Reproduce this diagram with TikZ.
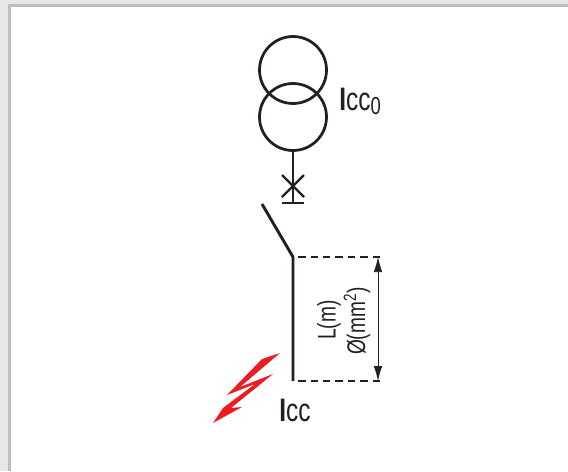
\documentclass[tikz,border=0pt]{standalone}
\usepackage{xcolor}
\usepackage{fontspec}
\setmainfont{Liberation Sans}
\newfontfamily\condfont[FakeStretch=0.75]{Liberation Sans}
\usepackage{tikz}
\usetikzlibrary{arrows.meta, positioning, calc}
\definecolor{pagegray}{HTML}{E6E7E8}
\definecolor{framegray}{HTML}{BCBEC0}
\definecolor{boltred}{HTML}{ED1C24}
\definecolor{inkblack}{HTML}{231F20}

\begin{document}
\begin{tikzpicture}[
    x=0.02cm, y=-0.02cm,
    winding/.style={draw=inkblack, circle, line width=0.55mm, minimum size=1.34cm, inner sep=0pt},
    wire/.style={draw=inkblack, line width=0.58mm},
    thinwire/.style={draw=inkblack, line width=0.46mm},
    guide/.style={draw=inkblack, line width=0.32mm, dash pattern=on 1.5mm off 1mm, dash phase=1.5mm},
    dimline/.style={draw=inkblack, line width=0.15mm, {Latex[length=3mm,width=1.7mm]}-{Latex[length=3mm,width=1.7mm]}},
    bigtext/.style={font=\condfont\fontsize{18.5}{19}\selectfont, text=inkblack, inner sep=0pt, anchor=base west},
    sidetext/.style={font=\condfont\fontsize{14.5}{15}\selectfont, text=inkblack, inner sep=0pt, rotate=90}
]
    % page and frame
    \useasboundingbox (0,0) rectangle (568,471);
    \fill[pagegray] (0,0) rectangle (568,471);
    \fill[framegray] (8,4) rectangle (568,471);
    \fill[white] (11,7) rectangle (568,471);

    % transformer
    \node[winding] (w1) at (293,70) {};
    \node[winding] (w2) at (293,117) {};
    \node[bigtext] (icc0) at (339,110) {\textbf{I}cc\raisebox{-2.5pt}{\fontsize{14}{15}\selectfont 0}};

    % breaker and switch
    \coordinate (b1) at (293,203);
    \coordinate (b2) at (282,203);
    \coordinate (b3) at (304,203);
    \coordinate (x1) at (282,175);
    \coordinate (x2) at (304,197);
    \coordinate (x3) at (282,197);
    \coordinate (x4) at (304,175);
    \coordinate (s1) at (262,204);
    \coordinate (s2) at (293,257);
    \coordinate (s3) at (293,381);
    \draw[thinwire] (w2.south) -- (b1);
    \draw[thinwire] (b2) -- (b3);
    \draw[thinwire] (x1) -- (x2);
    \draw[thinwire] (x3) -- (x4);
    \draw[wire, line join=miter] (s1) -- (s2) -- (s3);

    % length of the line
    \coordinate (d1) at (384,257);
    \coordinate (d2) at (384,381);
    \coordinate (a1) at (378,257);
    \coordinate (a2) at (378,381);
    \draw[guide] (s2) -- (d1);
    \draw[guide] (s3) -- (d2);
    \draw[dimline] (a1) -- (a2);
    \node[sidetext] (len) at (329,320) {L(m)};
    \node[sidetext] (sec) at (357,321) {Ø(mm\textsuperscript{2})};

    % fault
    \fill[boltred] (280,353) -- (262,359) -- (227,395) -- (255,384) -- (223,408) -- (213,423) -- (242,407) -- (231,408) -- (273,374) -- (240,387) -- cycle;
    \node[bigtext] (icc) at (279,421) {\textbf{I}cc};
\end{tikzpicture}
\end{document}
